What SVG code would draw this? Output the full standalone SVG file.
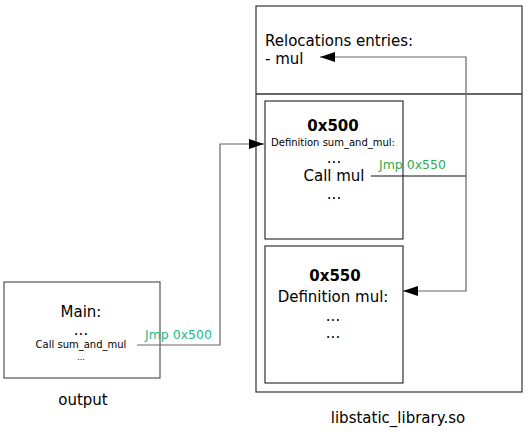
<svg xmlns="http://www.w3.org/2000/svg" width="532" height="435" viewBox="0 0 532 435">
<style>
.box{fill:#fff;stroke:#333;stroke-width:1.2}
.t{font-family:"DejaVu Sans",sans-serif;fill:#000;text-anchor:middle}
.b{font-weight:bold}
.lbl{font-family:"DejaVu Sans",sans-serif;font-size:12.5px}
.conn{fill:none;stroke:#666;stroke-width:1.2}
</style>
<defs>
<marker id="ah" markerUnits="userSpaceOnUse" markerWidth="16" markerHeight="10" refX="15" refY="5" orient="auto">
<path d="M0,0 L15,5 L0,10 z" fill="#000"/>
</marker>
</defs>
<rect width="532" height="435" fill="#fff"/>
<g id="library">
<rect class="box" x="256" y="6" width="266" height="386"/>
<line x1="256" y1="94" x2="522" y2="94" stroke="#333" stroke-width="1.5"/>
<text class="t" x="398" y="423" font-size="15">libstatic_library.so</text>
</g>
<g id="relocations">
<text x="265" y="46" font-family="DejaVu Sans,sans-serif" font-size="15">Relocations entries:</text>
<text x="265" y="64" font-family="DejaVu Sans,sans-serif" font-size="15">- mul</text>
</g>
<g id="node-0x500">
<rect class="box" x="265" y="101" width="138" height="138"/>
<text class="t b" x="333" y="131" font-size="15">0x500</text>
<text class="t" x="333" y="146" font-size="10">Definition sum_and_mul:</text>
<text class="t" x="334" y="163" font-size="15">...</text>
<text class="t" x="334" y="181" font-size="15">Call mul</text>
<text class="t" x="334" y="199" font-size="15">...</text>
</g>
<g id="node-0x550">
<rect class="box" x="265" y="246" width="138" height="137"/>
<text class="t b" x="335" y="281" font-size="15">0x550</text>
<text class="t" x="333" y="302" font-size="15">Definition mul:</text>
<text class="t" x="333" y="321" font-size="15">...</text>
<text class="t" x="333" y="338" font-size="15">...</text>
</g>
<g id="node-main">
<rect class="box" x="4" y="282" width="156" height="96" style="stroke:#555"/>
<text class="t" x="81" y="317" font-size="15">Main:</text>
<text class="t" x="81" y="335" font-size="15">...</text>
<text class="t" x="81" y="348" font-size="10">Call sum_and_mul</text>
<text class="t" x="81" y="360" font-size="8">...</text>
<text class="t" x="83" y="405" font-size="15">output</text>
</g>
<g id="connectors">
<path class="conn" d="M137,345 H220 V144 H264" marker-end="url(#ah)"/>
<path class="conn" d="M371,176 H466" style="stroke:#111"/>
<path class="conn" d="M466,176 V57 H320" marker-end="url(#ah)"/>
<path class="conn" d="M466,176 V291 H403" marker-end="url(#ah)"/>
<text class="lbl" x="145" y="339" fill="#1db98a">Jmp 0x500</text>
<text class="lbl" x="379" y="169" fill="#30ad4a">Jmp 0x550</text>
</g>
</svg>
